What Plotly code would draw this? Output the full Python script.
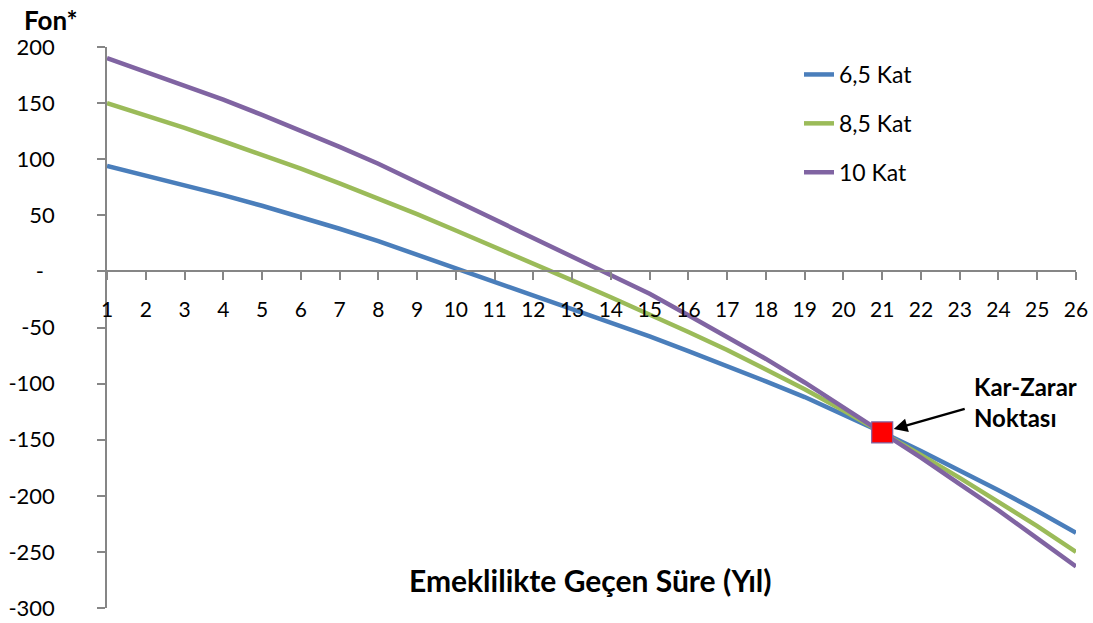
import plotly.graph_objects as go

# ---- data ----
years = list(range(1, 27))
kat_65 = [94, 85.5, 77, 68, 58.5, 48.5, 38, 27, 15, 2, -10, -22, -34, -46, -58,
          -71, -84, -98, -112, -127.5, -143.5, -160, -177, -195, -213.5, -233]
kat_85 = [150, 139.5, 128, 116, 104, 91.5, 78.5, 65, 51, 36.5, 22, 7, -8, -23, -38,
          -54, -70, -87, -105, -124, -143.5, -163.5, -184, -205, -227, -250]
kat_10 = [190, 178, 166, 153, 139.5, 125.5, 111, 96, 79.5, 63.5, 47, 30, 13.5, -3, -20,
          -39, -58, -78, -99, -121, -143.5, -166, -189.5, -213, -238, -263]
series_names = ["6,5 Kat", "8,5 Kat", "10 Kat"]
breakeven_x = [21]
breakeven_y = [-143.5]
y_tickvals = [200, 150, 100, 50, 0, -50, -100, -150, -200, -250, -300]
y_ticktext = ["200", "150", "100", "50", "-\u2002", "-50", "-100", "-150", "-200", "-250", "-300"]

colors = ["#4A7EBB", "#9BBB59", "#8064A2"]
FONT = "Lato"
AXIS = "#868686"

W, H = 1093, 623
ml, mr, mt, mb = 107, 17, 47, 15
pw, ph = W - ml - mr, H - mt - mb


def px_x(v):
    return (v - ml) / pw


def px_y(v):
    return (H - mb - v) / ph


fig = go.Figure()
for i, (name, vals) in enumerate(zip(series_names, [kat_65, kat_85, kat_10])):
    fig.add_trace(go.Scatter(
        x=years, y=vals, mode="lines", name=name,
        line=dict(color=colors[i], width=4.5),
        legendgroup=f"g{i}",
    ))

fig.add_trace(go.Scatter(
    x=breakeven_x, y=breakeven_y, mode="markers", showlegend=False,
    marker=dict(symbol="square", size=21, color="#FF0000",
                line=dict(color="#8064A2", width=1.2)),
    cliponaxis=False,
))

fig.add_annotation(
    x=breakeven_x[0], y=breakeven_y[0], xref="x", yref="y",
    text="", showarrow=True, arrowhead=2, arrowsize=1.1, arrowwidth=2.5,
    arrowcolor="black", ax=84, ay=-24, standoff=12,
)
fig.add_annotation(
    x=px_x(972), y=px_y(402), xref="paper", yref="paper", text="<b>Kar-Zarar<br>Noktası</b>",
    showarrow=False, xanchor="left", yanchor="middle", align="left",
    font=dict(family=FONT, size=24, color="black"),
)
fig.add_annotation(
    x=px_x(590), y=px_y(580), xref="paper", yref="paper",
    text="<b>Emeklilikte Geçen Süre (Yıl)</b>", showarrow=False,
    xanchor="center", yanchor="middle",
    font=dict(family=FONT, size=30, color="black"),
)
fig.add_annotation(
    x=px_x(22), y=px_y(20), xref="paper", yref="paper", text="<b>Fon*</b>", showarrow=False,
    xanchor="left", yanchor="middle",
    font=dict(family=FONT, size=26, color="black"),
)

fig.update_layout(
    width=W, height=H,
    margin=dict(l=ml, r=mr, t=mt, b=mb, autoexpand=False),
    paper_bgcolor="white", plot_bgcolor="white",
    font=dict(family=FONT, size=22, color="black"),
    legend=dict(x=px_x(799), y=px_y(53), xanchor="left", yanchor="top",
                bgcolor="rgba(0,0,0,0)", tracegroupgap=16,
                font=dict(family=FONT, size=23, color="black")),
    xaxis=dict(
        range=[1, 26], tickmode="array", tickvals=years,
        ticktext=[str(v) for v in years],
        anchor="free", position=0.6, automargin=False,
        showline=True, linecolor=AXIS, linewidth=1.5,
        ticks="outside", ticklen=8, tickcolor=AXIS, tickwidth=1.5,
        showgrid=False, zeroline=False, ticklabelstandoff=12,
        tickfont=dict(family=FONT, size=21, color="black"),
    ),
    yaxis=dict(
        range=[-300, 200], tickmode="array", tickvals=y_tickvals, ticktext=y_ticktext,
        automargin=False,
        showline=True, linecolor=AXIS, linewidth=1.5,
        ticks="outside", ticklen=8, tickcolor=AXIS, tickwidth=1.5,
        showgrid=False, zeroline=False, ticklabelstandoff=38,
        tickfont=dict(family=FONT, size=22, color="black"),
    ),
)

fig.write_html(
    "out.html",
    config={"displayModeBar": False},
    post_script="document.body.style.margin='0';document.body.style.overflow='hidden';",
)
